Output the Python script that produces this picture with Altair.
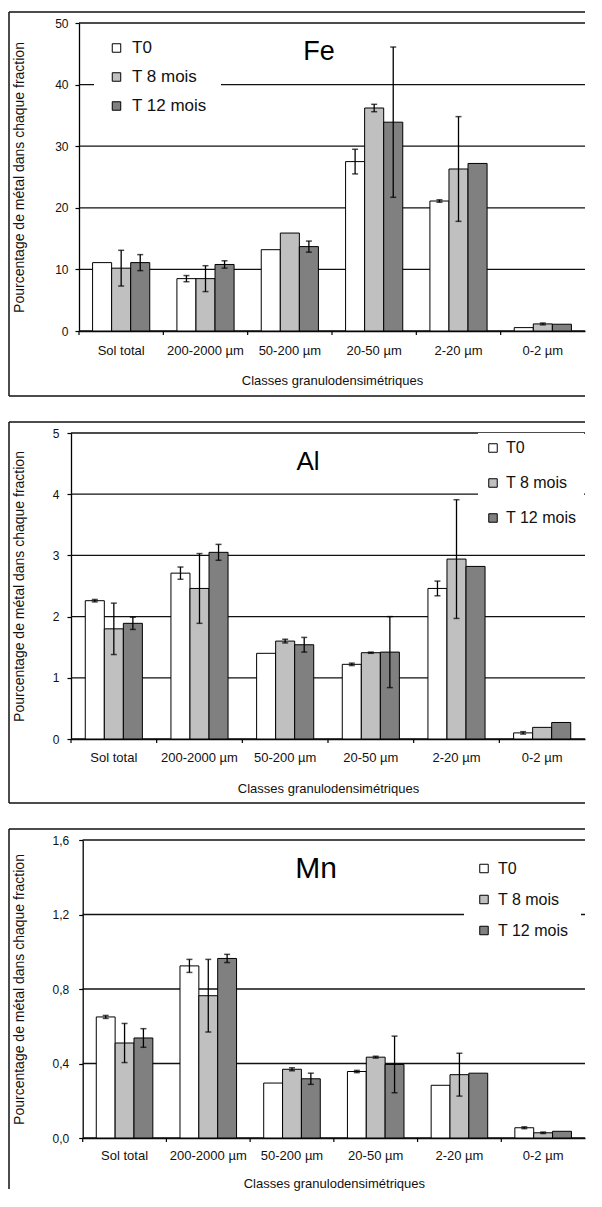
import altair as alt
import pandas as pd

FONT = "Liberation Sans"

categories = ["Sol total", "200-2000 µm", "50-200 µm", "20-50 µm", "2-20 µm", "0-2 µm"]
series = ["T0", "T 8 mois", "T 12 mois"]
colors = ["#ffffff", "#c0c0c0", "#808080"]

# Fe
fe_t0 = [11.1, 8.5, 13.2, 27.5, 21.1, 0.55]
fe_t8 = [10.2, 8.5, 15.9, 36.2, 26.3, 1.15]
fe_t12 = [11.1, 10.8, 13.7, 33.9, 27.2, 1.1]
fe_err_t0 = [0, 0.5, 0, 2.0, 0.2, 0]
fe_err_t8 = [2.9, 2.1, 0, 0.6, 8.5, 0.15]
fe_err_t12 = [1.3, 0.6, 0.9, 12.2, 0, 0]

# Al
al_t0 = [2.26, 2.71, 1.40, 1.22, 2.46, 0.10]
al_t8 = [1.80, 2.46, 1.60, 1.41, 2.94, 0.19]
al_t12 = [1.89, 3.05, 1.54, 1.42, 2.82, 0.27]
al_err_t0 = [0.02, 0.10, 0, 0.02, 0.12, 0.02]
al_err_t8 = [0.42, 0.57, 0.03, 0.01, 0.97, 0]
al_err_t12 = [0.10, 0.13, 0.12, 0.58, 0, 0]

# Mn
mn_t0 = [0.65, 0.924, 0.295, 0.357, 0.283, 0.055]
mn_t8 = [0.51, 0.764, 0.369, 0.434, 0.34, 0.028]
mn_t12 = [0.537, 0.964, 0.318, 0.395, 0.348, 0.036]
mn_err_t0 = [0.008, 0.035, 0, 0.006, 0, 0.005]
mn_err_t8 = [0.105, 0.195, 0.008, 0.005, 0.115, 0.004]
mn_err_t12 = [0.05, 0.022, 0.03, 0.152, 0, 0]

fe_ticks = [0, 10, 20, 30, 40, 50]
al_ticks = [0, 1, 2, 3, 4, 5]
mn_ticks = [0, 0.4, 0.8, 1.2, 1.6]

y_title = "Pourcentage de métal dans chaque fraction"
x_title = "Classes granulodensimétriques"

W = 506           # right end of every plot (relative to common origin)
BOX_LEFT = -70    # frame left edge (relative to common origin)


def make_df(vals, errs):
    rows = []
    for s, vl, el in zip(series, vals, errs):
        for c, v, e in zip(categories, vl, el):
            rows.append({"cat": c, "serie": s, "value": v, "err": e,
                         "lo": v - e, "hi": v + e})
    return pd.DataFrame(rows)


def panel(df, metal, ymax, yvals, comma, h, d, po, box_bottom,
          draw_bottom, title_x, title_size, lx, ly, lpad, lrow, lfont, loff,
          ytitle_x, ylabel_pad, xlabel_pad, xtitle_y):
    w = W
    xscale = alt.Scale(domain=categories, paddingInner=0, paddingOuter=0,
                       range=[d, w])
    xaxis = alt.Axis(title=x_title, labelAngle=0, ticks=False, tickSize=0,
                     labelPadding=xlabel_pad, labelFontSize=13, labelColor="#111",
                     labelOverlap=False, titleFontSize=13, titleFontWeight="normal",
                     titleColor="#111", titleY=xtitle_y, titleBaseline="middle",
                     domainColor="#000", domainWidth=1.3, grid=False)
    yscale = alt.Scale(domain=[0, ymax], nice=False, zero=True)
    yargs = dict(title=y_title, values=yvals, tickSize=4, tickColor="#000",
                 tickWidth=1.2, labelPadding=ylabel_pad, labelFontSize=12,
                 labelColor="#111", grid=False, offset=-d,
                 domainColor="#000", domainWidth=1.3, titleX=ytitle_x,
                 titleY=h / 2, titleAngle=270, titleAlign="center",
                 titleBaseline="middle", titleFontSize=14,
                 titleFontWeight="normal", titleColor="#111")
    if comma:
        yargs["labelExpr"] = "replace(format(datum.value, '.1f'), '.', ',')"
    else:
        yargs["format"] = "d"
    yaxis = alt.Axis(**yargs)
    xoff = alt.XOffset("serie:N",
                       scale=alt.Scale(domain=series, paddingInner=0, paddingOuter=po))

    one = pd.DataFrame({"b": [0]})
    frame_style = dict(color="#111", strokeWidth=1.5)
    left_line = alt.Chart(one).mark_rule(**frame_style).encode(
        x=alt.value(BOX_LEFT), y=alt.value(-11), y2=alt.value(box_bottom))
    top_line = alt.Chart(one).mark_rule(**frame_style).encode(
        x=alt.value(BOX_LEFT), x2=alt.value(w), y=alt.value(-11))
    layers = [left_line, top_line]
    if draw_bottom:
        bottom_line = alt.Chart(one).mark_rule(**frame_style).encode(
            x=alt.value(BOX_LEFT), x2=alt.value(w), y=alt.value(box_bottom))
        layers.append(bottom_line)

    grid = alt.Chart(pd.DataFrame({"v": yvals})).mark_rule(
        color="#111", strokeWidth=1.3
    ).encode(y=alt.Y("v:Q", scale=yscale, axis=yaxis),
             x=alt.value(d), x2=alt.value(w))

    bars = alt.Chart(df).mark_bar(stroke="#000", strokeWidth=1).encode(
        x=alt.X("cat:N", scale=xscale, axis=xaxis),
        xOffset=xoff,
        y=alt.Y("value:Q", scale=yscale, axis=yaxis),
        fill=alt.Fill("serie:N", scale=alt.Scale(domain=series, range=colors),
                      legend=alt.Legend(orient="none", legendX=lx, legendY=ly,
                                        title=None, fillColor="white",
                                        padding=lpad, rowPadding=lrow,
                                        symbolType="square", symbolSize=72,
                                        symbolStrokeColor="#000",
                                        symbolStrokeWidth=1,
                                        labelFontSize=lfont, labelFont=FONT,
                                        labelColor="#111", labelOffset=loff)),
    )

    edf = df[df["err"] > 0]
    rules = alt.Chart(edf).mark_rule(color="#000", strokeWidth=1.3).encode(
        x=alt.X("cat:N", scale=xscale, axis=xaxis),
        xOffset=xoff,
        y=alt.Y("lo:Q", scale=yscale, axis=yaxis),
        y2=alt.Y2("hi:Q"),
    )
    cap_lo = alt.Chart(edf).mark_tick(color="#000", size=6, thickness=1.5,
                                      orient="horizontal").encode(
        x=alt.X("cat:N", scale=xscale, axis=xaxis),
        xOffset=xoff,
        y=alt.Y("lo:Q", scale=yscale, axis=yaxis),
    )
    cap_hi = alt.Chart(edf).mark_tick(color="#000", size=6, thickness=1.5,
                                      orient="horizontal").encode(
        x=alt.X("cat:N", scale=xscale, axis=xaxis),
        xOffset=xoff,
        y=alt.Y("hi:Q", scale=yscale, axis=yaxis),
    )
    bticks = alt.Chart(pd.DataFrame({"cat": categories})).mark_rule(
        color="#000", strokeWidth=1.2
    ).encode(x=alt.X("cat:N", scale=xscale, axis=xaxis, bandPosition=0),
             y=alt.value(h), y2=alt.value(h + 4))
    title = alt.Chart(pd.DataFrame({"t": [metal]})).mark_text(
        fontSize=title_size, font=FONT, align="center", baseline="middle",
        color="#000"
    ).encode(text="t:N", x=alt.value(title_x), y=alt.value(29))

    layers += [grid, bars, rules, cap_lo, cap_hi, bticks, title]
    return alt.layer(*layers).properties(width=w, height=h)


fe_df = make_df([fe_t0, fe_t8, fe_t12], [fe_err_t0, fe_err_t8, fe_err_t12])
al_df = make_df([al_t0, al_t8, al_t12], [al_err_t0, al_err_t8, al_err_t12])
mn_df = make_df([mn_t0, mn_t8, mn_t12], [mn_err_t0, mn_err_t8, mn_err_t12])

fe = panel(fe_df, "Fe", 50, fe_ticks, False, h=308, d=0, po=0.7125,
           box_bottom=308 + 65, draw_bottom=True,
           title_x=240, title_size=27,
           lx=15, ly=2.5, lpad=14, lrow=11, lfont=17, loff=7, ytitle_x=-60,
           ylabel_pad=7, xlabel_pad=13, xtitle_y=49)
al = panel(al_df, "Al", 5, al_ticks, False, h=306, d=-8, po=0.75,
           box_bottom=306 + 64, draw_bottom=True,
           title_x=229, title_size=26,
           lx=399, ly=0, lpad=7, lrow=19, lfont=16, loff=5, ytitle_x=-52,
           ylabel_pad=8, xlabel_pad=12, xtitle_y=49)
mn = panel(mn_df, "Mn", 1.6, mn_ticks, True, h=298, d=3.7, po=0.72,
           box_bottom=298 + 51, draw_bottom=False,
           title_x=237, title_size=30,
           lx=385, ly=8.5, lpad=12, lrow=15, lfont=16, loff=6, ytitle_x=-63,
           ylabel_pad=10, xlabel_pad=11, xtitle_y=45)

chart = alt.vconcat(fe, al, mn, spacing=24).resolve_scale(
    x="independent", y="independent", xOffset="independent", fill="independent"
).resolve_legend(fill="independent").properties(
    padding={"left": 0, "top": 3, "right": 0, "bottom": 4}
).configure(font=FONT).configure_view(strokeWidth=0)

chart.save("out.html", embed_options={"renderer": "svg", "actions": False})
